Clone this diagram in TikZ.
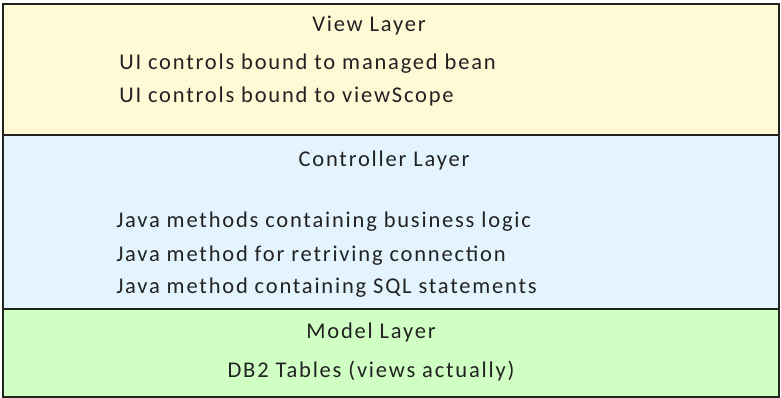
\documentclass[tikz,border=0pt]{standalone}
\usepackage{fontspec}
\setmainfont{Carlito}[LetterSpace=8]
\usetikzlibrary{positioning}
\definecolor{viewfill}{RGB}{255, 249, 214}
\definecolor{ctrlfill}{RGB}{228, 244, 254}
\definecolor{modelfill}{RGB}{208, 255, 196}
\definecolor{layerline}{RGB}{34, 34, 30}
\definecolor{layertext}{RGB}{34, 34, 34}

\begin{document}
\begin{tikzpicture}[x=0.025cm, y=-0.025cm,
    font=\fontsize{16}{19}\selectfont,
    layer/.style={
        draw=layerline, line width=1.2pt, anchor=north west,
        minimum width=19.4cm, inner sep=0pt
    },
    title/.style={text=layertext, inner sep=0pt, anchor=base},
    item/.style={text=layertext, inner sep=0pt, anchor=base west},
]
    \useasboundingbox (0,0) rectangle (781,397);

    % --- three stacked layers ---
    \node[layer, fill=viewfill,  minimum height=3.275cm] (view)  at (2,3)   {};
    \node[layer, fill=ctrlfill,  minimum height=4.35cm]  (ctrl)  at (2,134) {};
    \node[layer, fill=modelfill, minimum height=2.2cm]   (model) at (2,308) {};

    % --- view layer texts ---
    \node[title] (viewt) at (369,31) {View Layer};
    \node[item]  (v1) at (119,69) {UI controls bound to managed bean};
    \node[item]  (v2) at (119,102) {UI controls bound to viewScope};

    % --- controller layer texts ---
    \node[title] (ctrlt) at (384,166) {Controller Layer};
    \node[item]  (c1) at (116,227) {Java methods containing business logic};
    \node[item]  (c2) at (116,261) {Java method for retriving connection};
    \node[item]  (c3) at (116,293) {Java method containing SQL statements};

    % --- model layer texts ---
    \node[title] (modelt) at (371,338) {Model Layer};
    \node[title] (m1)     at (371,377) {DB2 Tables (views actually)};

\end{tikzpicture}
\end{document}
